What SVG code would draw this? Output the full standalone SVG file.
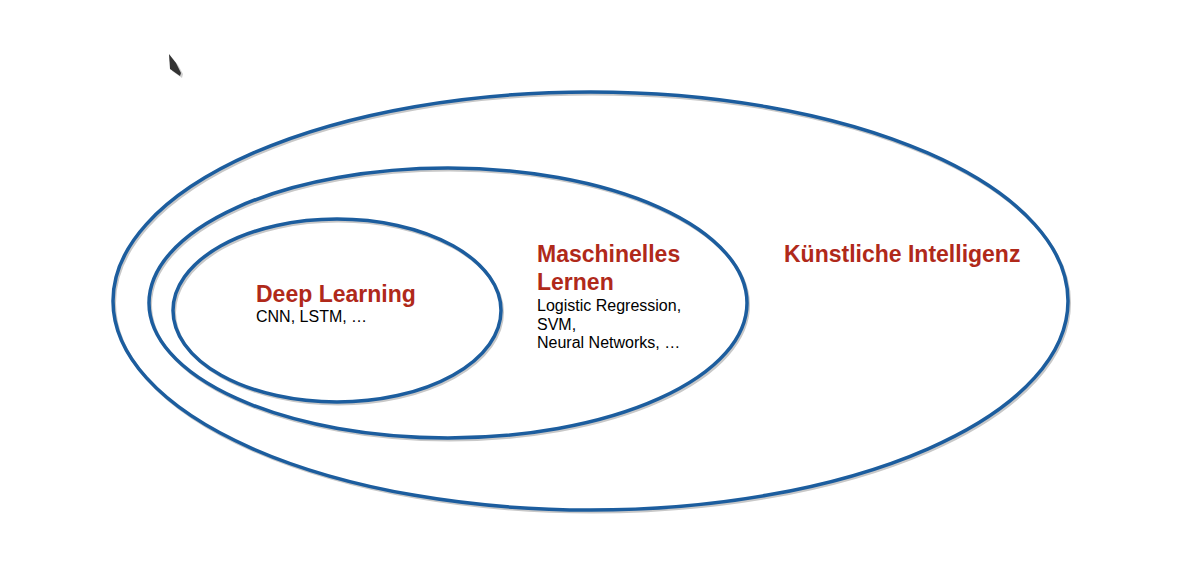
<svg xmlns="http://www.w3.org/2000/svg" width="1185" height="583" viewBox="0 0 1185 583">
  <style>
    .ring { fill: none; stroke: #1c5d9e; stroke-width: 3.5; }
    .shadow { fill: none; stroke: #c8c8c8; stroke-width: 3; }
    .title { font-family: "Liberation Sans", Arial, sans-serif; font-weight: bold; font-size: 23px; fill: #b0291a; }
    .sub { font-family: "Liberation Sans", Arial, sans-serif; font-size: 16px; fill: #000; }
  </style>
  <rect width="1185" height="583" fill="#ffffff"/>

  <!-- pointer -->
  <polygon points="171,57 178,65 183,74 182,78 172,71" fill="#d0d0d0"/>
  <polygon points="169,54 176,63 181,73 180,76 170,69" fill="#333333"/>

  <g id="ki">
    <ellipse class="shadow" cx="592" cy="303" rx="477.5" ry="209"/>
    <ellipse class="ring" cx="590.5" cy="301" rx="477.5" ry="209"/>
    <text class="title" x="784" y="262">Künstliche Intelligenz</text>
  </g>

  <g id="ml">
    <ellipse class="shadow" cx="449.5" cy="305" rx="299" ry="135"/>
    <ellipse class="ring" cx="448" cy="303" rx="299" ry="135"/>
    <text class="title" x="537" y="262">Maschinelles</text>
    <text class="title" x="537" y="289.5">Lernen</text>
    <text class="sub" x="537" y="311">Logistic Regression,</text>
    <text class="sub" x="537" y="329.5">SVM,</text>
    <text class="sub" x="537" y="348">Neural Networks, …</text>
  </g>

  <g id="dl">
    <ellipse class="shadow" cx="338.5" cy="312.5" rx="164" ry="91.5"/>
    <ellipse class="ring" cx="337" cy="310.5" rx="164" ry="91.5"/>
    <text class="title" x="256" y="302">Deep Learning</text>
    <text class="sub" x="256" y="322">CNN, LSTM, …</text>
  </g>

  <g id="connectors"/>
</svg>
